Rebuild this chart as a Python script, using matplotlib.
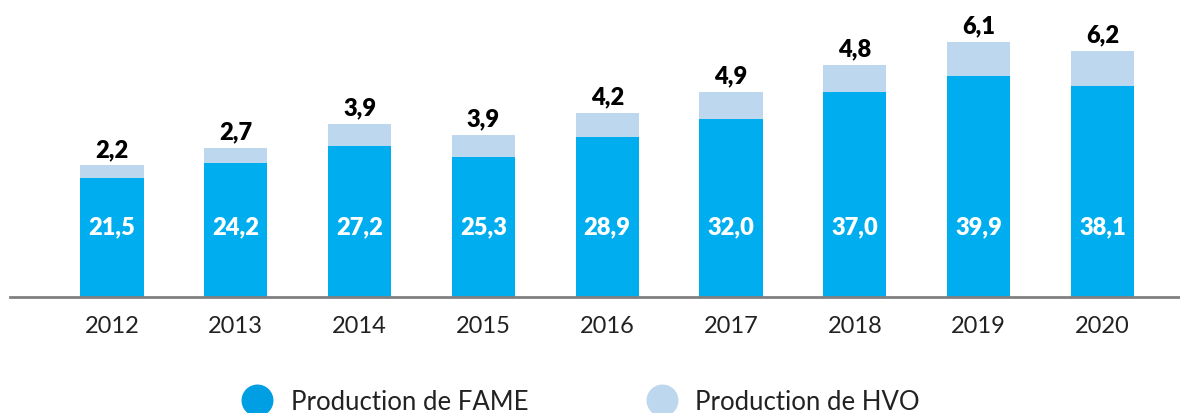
import matplotlib.pyplot as plt
from matplotlib.lines import Line2D

plt.rcParams['font.family'] = ['Lato', 'DejaVu Sans']

years = ['2012', '2013', '2014', '2015', '2016', '2017', '2018', '2019', '2020']
fame = [21.5, 24.2, 27.2, 25.3, 28.9, 32.0, 37.0, 39.9, 38.1]
hvo = [2.2, 2.7, 3.9, 3.9, 4.2, 4.9, 4.8, 6.1, 6.2]

fame_color = '#00AEEF'
hvo_color = '#BDD7EE'


def fr(v):
    return f'{v:.1f}'.replace('.', ',')


fig = plt.figure(figsize=(11.8, 4.14), dpi=100)
ax = fig.add_axes([10 / 1180, 116 / 414, 1170 / 1180, 298 / 414])

x = list(range(len(years)))
ax.bar(x, fame, 0.51, color=fame_color, linewidth=0)
ax.bar(x, hvo, 0.51, bottom=fame, color=hvo_color, linewidth=0)

for i in x:
    ax.annotate(fr(fame[i]), xy=(i, 0), xytext=(0, 51), textcoords='offset points',
                ha='center', va='center', color='white', fontsize=17, fontweight='heavy')
    ax.annotate(fr(hvo[i]), xy=(i, fame[i] + hvo[i]), xytext=(0, 12), textcoords='offset points',
                ha='center', va='center', color='black', fontsize=17, fontweight='heavy')

ax.set_xlim(-102 / 123.8, 1068 / 123.8)
ax.set_ylim(0, 53.7)
ax.set_xticks(x)
ax.set_xticklabels(years, fontsize=17, color='#222222')
ax.tick_params(axis='x', length=0, pad=13)
ax.set_yticks([])
for s in ['top', 'right', 'left']:
    ax.spines[s].set_visible(False)
ax.spines['bottom'].set_color('#808080')
ax.spines['bottom'].set_linewidth(2)

handles = [
    Line2D([], [], marker='o', linestyle='', markersize=22, color='#009FE3'),
    Line2D([], [], marker='o', linestyle='', markersize=22, color=hvo_color),
]
fig.legend(handles, ['Production de FAME', 'Production de HVO'], loc='center',
           bbox_to_anchor=(0.488, 0.027), ncol=2, frameon=False, fontsize=18.5,
           handletextpad=0.3, columnspacing=4.2, labelcolor='#222222')

fig.savefig('out.png', dpi=100)
